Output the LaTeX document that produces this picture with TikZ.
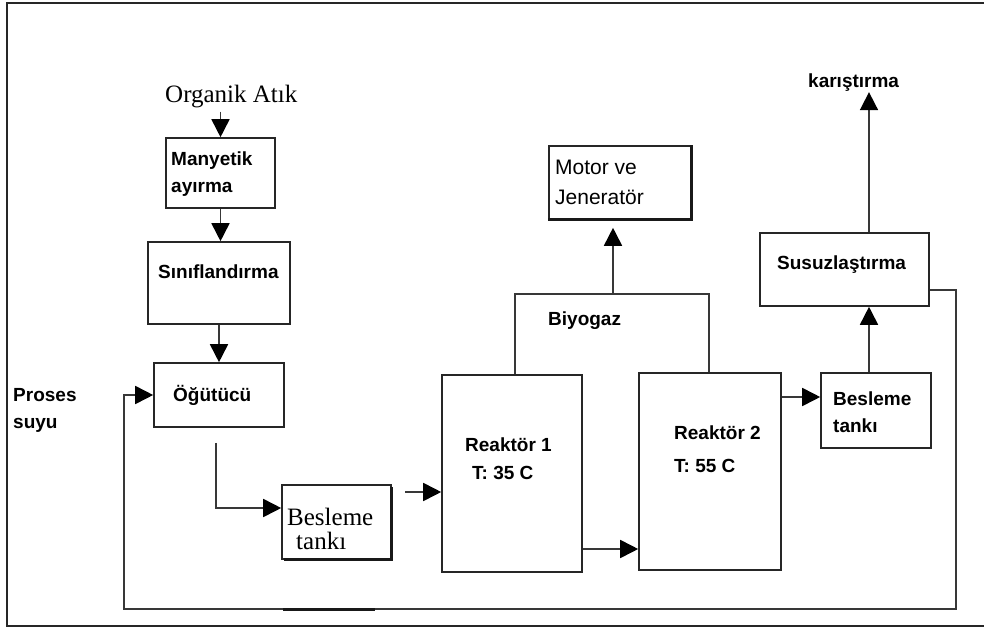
\documentclass[tikz,border=0pt]{standalone}
\usepackage{fontspec}
\setmainfont{Liberation Serif}
\setsansfont{Liberation Sans}
\usetikzlibrary{arrows.meta,calc}
\begin{document}
\begin{tikzpicture}[x=1pt,y=-1pt,
  box/.style={draw=black!85, line width=1.6pt, inner sep=0pt},
  conn/.style={draw=black!78, line width=1.7pt},
  arr/.style={conn, -{Triangle[length=18pt,width=18pt,color=black,fill=black]}},
  lab/.style={anchor=base west, inner sep=0pt, font=\sffamily\bfseries\fontsize{19}{23}\selectfont},
  serifl/.style={anchor=base west, inner sep=0pt, font=\rmfamily\fontsize{25}{30}\selectfont},
  plainl/.style={anchor=base west, inner sep=0pt, font=\sffamily\fontsize{21}{25}\selectfont},
  heavy/.style={draw=black!90, line width=3pt},
  frame/.style={draw=black!85, line width=2pt}]
\useasboundingbox (0,0) rectangle (984,628);

% outer frame (right side runs past the page edge)
\draw[frame] (990,3) -- (7,3) -- (7,626) -- (990,626);

% process boxes
\node[box, minimum width=109pt, minimum height=70pt]  (manyetik) at (220.5,173)   {};
\node[box, minimum width=142pt, minimum height=82pt]  (sinif)    at (219,283)     {};
\node[box, minimum width=130pt, minimum height=64pt]  (ogutucu)  at (219,395)     {};
\node[box, minimum width=109pt, minimum height=74pt]  (bt1)      at (336.5,522)   {};
\node[box, minimum width=140pt, minimum height=197pt] (r1)       at (512,473.5)   {};
\node[box, minimum width=142pt, minimum height=197pt] (r2)       at (710,471.5)   {};
\node[box, minimum width=110pt, minimum height=75pt]  (bt2)      at (876,410.5)   {};
\node[box, minimum width=169pt, minimum height=73pt]  (susuz)    at (844.5,269.5) {};
\node[box, minimum width=142pt, minimum height=73pt]  (motor)    at (620,182.5)   {};

% heavier right and bottom edges
\draw[heavy] ([yshift=-3pt]bt1.north east) -- (bt1.south east) -- ([xshift=3pt]bt1.south west);
\draw[heavy] (motor.north east) -- (motor.south east) -- (motor.south west);

% labels
\node[serifl] (org)   at (165,103) {Organik Atık};
\node[lab]    (man1)  at (171,166) {Manyetik};
\node[lab]    (man2)  at (171,193) {ayırma};
\node[lab]    (sin)   at (158,278) {Sınıflandırma};
\node[lab]    (ogu)   at (173,401) {Öğütücü};
\node[lab]    (pro1)  at (13,401)  {Proses};
\node[lab]    (pro2)  at (13,428)  {suyu};
\node[serifl] (bes1)  at (287,525) {Besleme};
\node[serifl] (bes2)  at (296,549) {tankı};
\node[lab]    (rk1a)  at (465,451) {Reaktör 1};
\node[lab]    (rk1b)  at (472,479) {T: 35 C};
\node[lab]    (rk2a)  at (674,439) {Reaktör 2};
\node[lab]    (rk2b)  at (674,472) {T: 55 C};
\node[lab]    (bt2a)  at (833,405) {Besleme};
\node[lab]    (bt2b)  at (833,432) {tankı};
\node[lab]    (sus)   at (777,269) {Susuzlaştırma};
\node[lab]    (kar)   at (808,88)  {karıştırma};
\node[lab]    (gas)   at (548,325) {Biyogaz};
\node[plainl] (mot1)  at (555,175) {Motor ve};
\node[plainl] (mot2)  at (555,205) {Jeneratör};

% main line
\draw[arr] ([yshift=-3pt]manyetik.north |- org.south) -- (manyetik.north);
\draw[arr] (manyetik.south) -- (manyetik.south |- sinif.north);
\draw[arr] (sinif.south) -- (ogutucu.north);
\draw[arr] ([xshift=-3pt,yshift=-15pt]ogutucu.south) |- ([yshift=14pt]bt1.west);
\coordinate (r1in) at (405,492);
\draw[arr] (r1in) -- (r1in -| r1.west);
\draw[arr] ([yshift=-75.5pt]r1.east) -- ([yshift=-75.5pt]r1.east -| r2.west);
\draw[arr] ([yshift=74.5pt]r2.east) -- ([yshift=74.5pt]r2.east -| bt2.west);
\draw[arr] ([xshift=-7pt]bt2.north) -- ([xshift=-7pt]bt2.north |- susuz.south);
\draw[arr] ([xshift=-7pt]bt2.north |- susuz.north) -- ([xshift=-7pt]bt2.north |- kar.south);

% biogas collection to the engine
\coordinate (gasjoin) at (613,294);
\draw[conn] ([xshift=3pt]r1.north) |- (gasjoin) -| ([xshift=-1pt]r2.north);
\draw[arr] (gasjoin) -- ([yshift=-8pt]gasjoin |- motor.south);

% process water return loop
\coordinate (loopR) at (956,609);
\coordinate (loopL) at (124,609);
\draw[arr] ([yshift=-20.5pt]susuz.east) -| (loopR) -- (loopL) |- (ogutucu.west);
\draw[heavy] (283,609) -- (375,609);
\end{tikzpicture}
\end{document}
